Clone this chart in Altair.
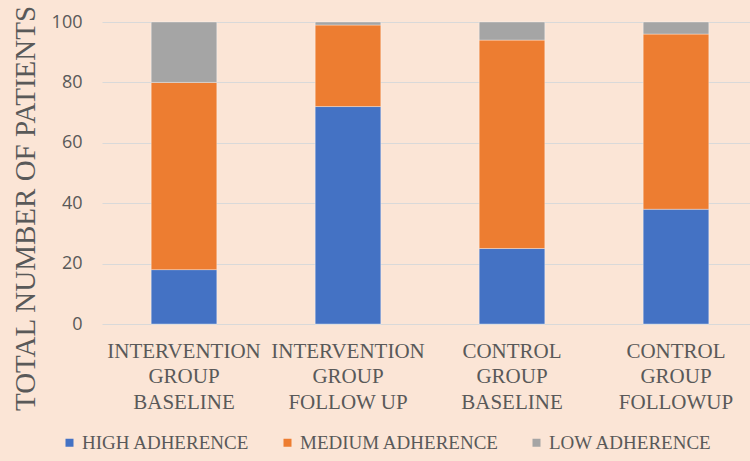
import altair as alt
import pandas as pd

groups = [
    "INTERVENTION\nGROUP\nBASELINE",
    "INTERVENTION\nGROUP\nFOLLOW UP",
    "CONTROL\nGROUP\nBASELINE",
    "CONTROL\nGROUP\nFOLLOWUP",
]
levels = ["HIGH ADHERENCE", "MEDIUM ADHERENCE", "LOW ADHERENCE"]
high = [18, 72, 25, 38]
medium = [62, 27, 69, 58]
low = [20, 1, 6, 4]
colors = ["#4472C4", "#ED7D31", "#A5A5A5"]
y_ticks = [0, 20, 40, 60, 80, 100]

rows = []
for i, g in enumerate(groups):
    for j, (lvl, vals) in enumerate(zip(levels, [high, medium, low])):
        rows.append({"group": g, "level": lvl, "value": vals[i], "order": j})
df = pd.DataFrame(rows)

text_color = "#595959"
serif = "Liberation Serif"

chart = (
    alt.Chart(df)
    .mark_bar(stroke="#ffffff", strokeOpacity=0.35, strokeWidth=1)
    .encode(
        x=alt.X(
            "group:N",
            sort=groups,
            scale=alt.Scale(range=[0, 656], paddingInner=0.6, paddingOuter=0.3),
            axis=alt.Axis(
                title=None,
                labelAngle=0,
                labelExpr="split(datum.value, '\\n')",
                labelFont=serif,
                labelFontSize=21,
                labelColor=text_color,
                labelLineHeight=25.5,
                labelPadding=16,
                labelBaseline="top",
                labelLimit=300,
                ticks=False,
                domain=False,
                grid=False,
            ),
        ),
        y=alt.Y(
            "value:Q",
            stack="zero",
            scale=alt.Scale(domain=[0, 100], nice=False),
            axis=alt.Axis(
                title="TOTAL NUMBER OF PATIENTS",
                titleFont=serif,
                titleFontSize=29,
                titleFontWeight="normal",
                titleColor=text_color,
                titleAngle=270,
                titleBaseline="alphabetic",
                titleAlign="center",
                titleX=-68,
                titleY=186,
                titleLimit=500,
                values=y_ticks,
                labelFont="Open Sans",
                labelFontSize=18,
                labelColor=text_color,
                labelPadding=20,
                ticks=False,
                domain=False,
                grid=True,
                gridColor="#D9D9D9",
                gridWidth=1,
            ),
        ),
        color=alt.Color(
            "level:N",
            sort=levels,
            scale=alt.Scale(domain=levels, range=colors),
            legend=alt.Legend(
                title=None,
                orient="none",
                direction="horizontal",
                legendX=-42,
                legendY=411,
                padding=0,
                symbolType="square",
                symbolSize=64,
                symbolStrokeWidth=0,
                labelFont=serif,
                labelFontSize=19,
                labelColor=text_color,
                labelOffset=3,
                labelLimit=400,
                columnPadding=28,
            ),
        ),
        order=alt.Order("order:Q"),
    )
    .properties(
        width=648,
        height=302,
        autosize=alt.AutoSizeParams(type="none"),
        padding={"left": 102, "top": 22, "right": 0, "bottom": 137},
        background="#FBE5D6",
    )
    .configure_view(stroke=None)
)

chart.save("out.html", embed_options={"renderer": "svg", "actions": False})
